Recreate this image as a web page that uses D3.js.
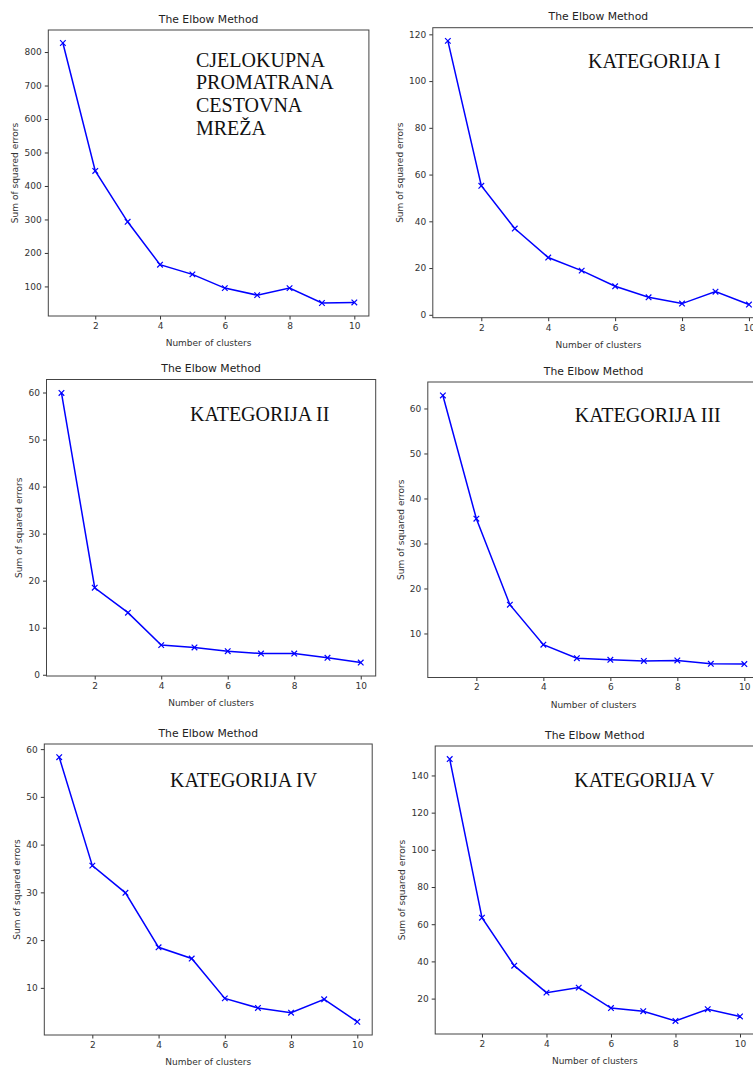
<!DOCTYPE html>
<html>
<head>
<meta charset="utf-8">
<script src="https://cdn.jsdelivr.net/npm/d3@7"></script>
<style>
  body { margin: 0; background: #fff; }
  svg { display: block; }
  .tick text { font-family: "DejaVu Sans", sans-serif; font-size: 9px; fill: #333; }
  .axlabel { font-family: "DejaVu Sans", sans-serif; font-size: 9px; fill: #333; }
  .title { font-family: "DejaVu Sans", sans-serif; font-size: 10.8px; fill: #222; }
  .note { font-family: "Liberation Serif", "Times New Roman", serif; font-size: 20px; fill: #111; }
</style>
</head>
<body>
<svg id="chart" width="753" height="1067"></svg>
<script>
// number of clusters k
const clusters = [1, 2, 3, 4, 5, 6, 7, 8, 9, 10];
const xTicks = [2, 4, 6, 8, 10];

// sum of squared errors
const sseAll  = [827, 445, 293, 165, 136, 95, 74, 95, 50.5, 52];
const sseCat1 = [117.2, 55.2, 36.9, 24.5, 18.9, 12.2, 7.5, 4.8, 9.9, 4.4];
const sseCat2 = [59.9, 18.5, 13.2, 6.3, 5.8, 5.0, 4.5, 4.5, 3.6, 2.6];
const sseCat3 = [62.9, 35.5, 16.4, 7.5, 4.5, 4.15, 3.9, 4.0, 3.26, 3.2];
const sseCat4 = [58.3, 35.6, 29.9, 18.5, 16.15, 7.8, 5.8, 4.8, 7.6, 2.9];
const sseCat5 = [148.8, 63.5, 37.7, 23.2, 25.9, 14.9, 13.2, 8.0, 14.3, 10.4];

// y tick labels per panel
const yTicksAll  = [100, 200, 300, 400, 500, 600, 700, 800];
const yTicksCat1 = [0, 20, 40, 60, 80, 100, 120];
const yTicksCat2 = [0, 10, 20, 30, 40, 50, 60];
const yTicksCat3 = [10, 20, 30, 40, 50, 60];
const yTicksCat4 = [10, 20, 30, 40, 50, 60];
const yTicksCat5 = [20, 40, 60, 80, 100, 120, 140];

const notes = [
    ["CJELOKUPNA", "PROMATRANA", "CESTOVNA", "MREŽA"],
    ["KATEGORIJA I"],
    ["KATEGORIJA II"],
    ["KATEGORIJA III"],
    ["KATEGORIJA IV"],
    ["KATEGORIJA V"]
];

const titleText = "The Elbow Method";
const xLabel = "Number of clusters";
const yLabel = "Sum of squared errors";

// axes boxes in page pixels
const panels = [
    {values: sseAll,  ticks: yTicksAll,  note: notes[0], left: 48.3,  top: 30,    right: 368.9, bottom: 316,  nx: 196,   ny: 66.7},
    {values: sseCat1, ticks: yTicksCat1, note: notes[1], left: 432.8, top: 27.7,  right: 764,   bottom: 317.7, nx: 588,  ny: 68.3},
    {values: sseCat2, ticks: yTicksCat2, note: notes[2], left: 46.5,  top: 379.5, right: 375.7, bottom: 676,  nx: 190,   ny: 420.7},
    {values: sseCat3, ticks: yTicksCat3, note: notes[3], left: 427.8, top: 382,   right: 759.4, bottom: 677.5, nx: 574.7, ny: 422.3},
    {values: sseCat4, ticks: yTicksCat4, note: notes[4], left: 44.3,  top: 744,   right: 372.2, bottom: 1035, nx: 170,   ny: 787.3},
    {values: sseCat5, ticks: yTicksCat5, note: notes[5], left: 435.2, top: 746,   right: 754.5, bottom: 1034, nx: 574.3, ny: 787.3}
];

const svg = d3.select("#chart");
svg.append("rect").attr("width", 753).attr("height", 1067).attr("fill", "#fff");

function padded(ext) {
    const m = (ext[1] - ext[0]) * 0.05;
    return [ext[0] - m, ext[1] + m];
}

function drawPanel(p) {
    const g = svg.append("g");

    const x = d3.scaleLinear()
        .domain(padded(d3.extent(clusters)))
        .range([p.left, p.right]);
    const y = d3.scaleLinear()
        .domain(padded(d3.extent(p.values)))
        .range([p.bottom, p.top]);

    // x axis
    const gx = g.append("g")
        .attr("transform", "translate(0," + p.bottom + ")")
        .call(d3.axisBottom(x).tickValues(xTicks).tickSize(3.5).tickPadding(3).tickSizeOuter(0));
    gx.select(".domain").remove();
    gx.selectAll(".tick line").attr("stroke", "#333");

    // y axis
    const gy = g.append("g")
        .attr("transform", "translate(" + p.left + ",0)")
        .call(d3.axisLeft(y).tickValues(p.ticks).tickSize(3.5).tickPadding(3).tickSizeOuter(0));
    gy.select(".domain").remove();
    gy.selectAll(".tick line").attr("stroke", "#333");

    // frame
    g.append("rect")
        .attr("x", p.left)
        .attr("y", p.top)
        .attr("width", p.right - p.left)
        .attr("height", p.bottom - p.top)
        .attr("fill", "none")
        .attr("stroke", "#444")
        .attr("stroke-width", 1);

    const line = d3.line()
        .x((d, i) => x(clusters[i]))
        .y(d => y(d));

    g.append("path")
        .datum(p.values)
        .attr("fill", "none")
        .attr("stroke", "#0000ff")
        .attr("stroke-width", 1.5)
        .attr("d", line);

    const s = 2.8;
    g.selectAll(".mark")
        .data(p.values)
        .enter().append("path")
        .attr("class", "mark")
        .attr("d", function (d, i) {
            const cx = x(clusters[i]), cy = y(d);
            return "M" + (cx - s) + "," + (cy - s) + "L" + (cx + s) + "," + (cy + s) +
                   "M" + (cx - s) + "," + (cy + s) + "L" + (cx + s) + "," + (cy - s);
        })
        .attr("stroke", "#0000ff")
        .attr("stroke-width", 1.2);

    // title
    g.append("text")
        .attr("class", "title")
        .attr("x", (p.left + p.right) / 2)
        .attr("y", p.top - 7.5)
        .attr("text-anchor", "middle")
        .text(titleText);

    // x label
    g.append("text")
        .attr("class", "axlabel")
        .attr("x", (p.left + p.right) / 2)
        .attr("y", p.bottom + 30)
        .attr("text-anchor", "middle")
        .text(xLabel);

    // y label, offset by the widest tick label
    let maxw = 0;
    gy.selectAll(".tick text").each(function () {
        maxw = Math.max(maxw, this.getComputedTextLength());
    });
    const lx = p.left - 16 - maxw;
    const ly = (p.top + p.bottom) / 2;
    g.append("text")
        .attr("class", "axlabel")
        .attr("transform", "translate(" + lx + "," + ly + ") rotate(-90)")
        .attr("text-anchor", "middle")
        .attr("dy", "0.35em")
        .text(yLabel);

    // category note
    const note = g.append("text")
        .attr("class", "note")
        .attr("x", p.nx)
        .attr("y", p.ny);
    note.selectAll("tspan")
        .data(p.note)
        .enter().append("tspan")
        .attr("x", p.nx)
        .attr("dy", (d, i) => i === 0 ? 0 : 22.7)
        .text(d => d);
}

panels.forEach(drawPanel);
</script>
</body>
</html>
